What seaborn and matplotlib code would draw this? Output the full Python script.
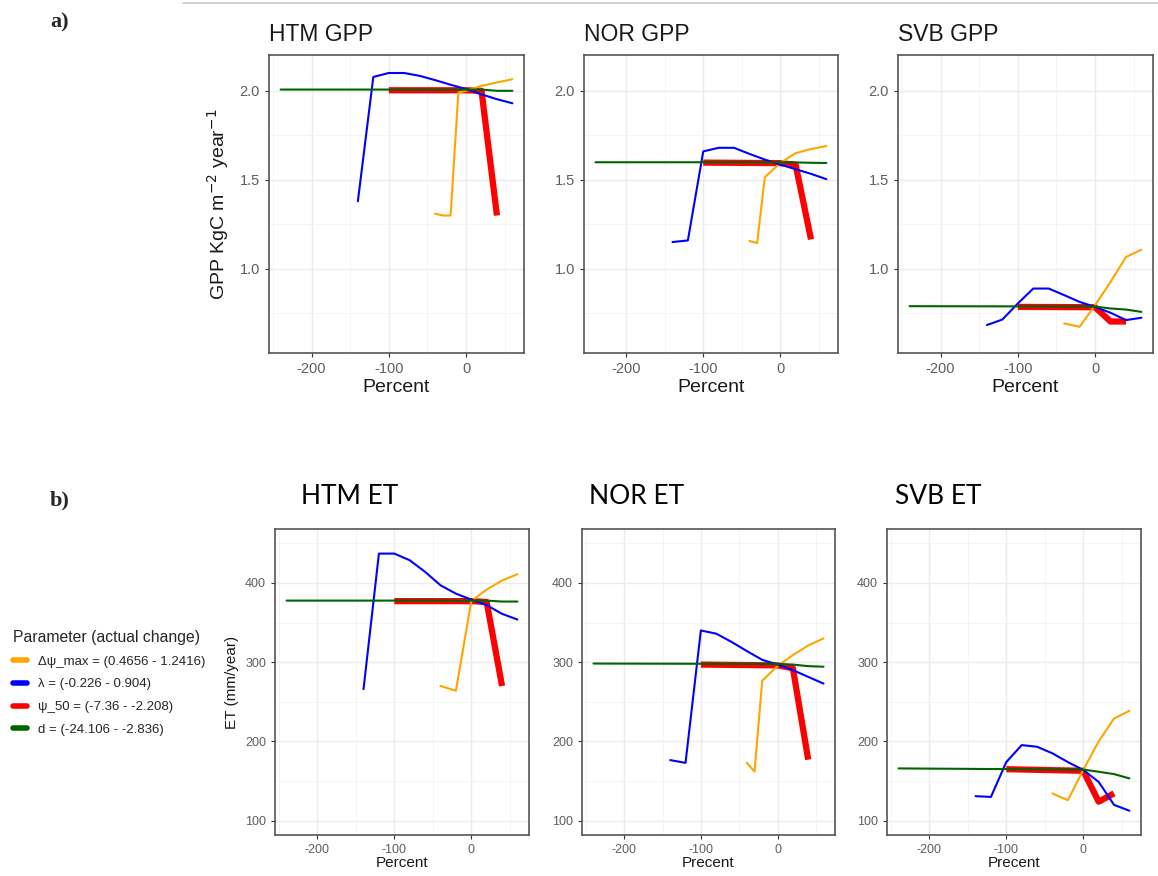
import matplotlib
matplotlib.use("Agg")
import matplotlib.pyplot as plt
from matplotlib.lines import Line2D
from matplotlib.ticker import MultipleLocator
import seaborn as sns

# percent change of each parameter (x positions)
pct_dpsi = [-40, -30, -20, -10, 0, 20, 40, 60]
pct_lam = [-140, -120, -100, -80, -60, -40, -20, 0, 20, 40, 60]
pct_psi50 = [-100, 0, 20, 40]
pct_d = [-240, 0, 20, 40, 60]

# GPP (KgC m-2 year-1)
htm_gpp_dpsi = [1.31, 1.30, 1.30, 1.99, 2.00, 2.028, 2.047, 2.065]
htm_gpp_lam = [1.38, 2.078, 2.10, 2.10, 2.084, 2.06, 2.034, 2.01, 1.98, 1.953, 1.93]
htm_gpp_psi50 = [2.003, 2.003, 2.0, 1.30]
htm_gpp_d = [2.007, 2.007, 2.007, 2.0, 2.0]

nor_gpp_dpsi = [1.157, 1.145, 1.515, 1.555, 1.595, 1.65, 1.673, 1.69]
nor_gpp_lam = [1.151, 1.16, 1.66, 1.68, 1.68, 1.646, 1.614, 1.586, 1.56, 1.534, 1.504]
nor_gpp_psi50 = [1.597, 1.594, 1.585, 1.166]
nor_gpp_d = [1.599, 1.599, 1.598, 1.596, 1.595]

svb_gpp_dpsi = [0.694, 0.685, 0.675, 0.736, 0.797, 0.927, 1.067, 1.108]
svb_gpp_lam = [0.685, 0.716, 0.806, 0.89, 0.89, 0.853, 0.815, 0.787, 0.754, 0.713, 0.726]
svb_gpp_psi50 = [0.787, 0.785, 0.705, 0.705]
svb_gpp_d = [0.791, 0.789, 0.778, 0.772, 0.759]

# ET (mm/year)
htm_et_dpsi = [270, 267, 264, 320, 377, 391.6, 403, 411]
htm_et_lam = [266, 437, 437, 428.6, 414, 397, 386.5, 379, 372, 361, 353.8]
htm_et_psi50 = [377, 377, 376, 270]
htm_et_d = [377.7, 377.7, 377.7, 376.5, 376.5]

nor_et_dpsi = [173, 162, 276.5, 286, 295, 309, 321, 330]
nor_et_lam = [176.5, 173, 340, 336, 325.6, 314, 303, 297, 290, 281.5, 273]
nor_et_psi50 = [297, 296, 292.4, 177]
nor_et_d = [298.3, 297.8, 297, 295, 294.3]

svb_et_dpsi = [134.5, 130, 126, 145, 164, 200, 229, 238.7]
svb_et_lam = [131, 130, 174, 195.4, 193.3, 185, 174, 164, 149, 120, 112.6]
svb_et_psi50 = [165, 163, 124, 134.5]
svb_et_d = [166, 164.5, 161.8, 158.8, 153.4]

legend_labels = ["\u0394\u03c8_max = (0.4656 - 1.2416)", "\u03bb = (-0.226 - 0.904)",
                 "\u03c8_50 = (-7.36 - -2.208)", "d = (-24.106 - -2.836)"]
colors = ["#FFA500", "#0000FF", "#FF0000", "#006400"]

sns.set_style("white")
plt.rcParams["font.family"] = ["Liberation Sans", "DejaVu Sans"]
plt.rcParams["axes.unicode_minus"] = False

fig = plt.figure(figsize=(11.58, 8.76), dpi=100)


def draw_panel(rect, dpsi, lam, psi50, d, ylim, ymaj, ymin, small):
    ax = fig.add_axes(rect)
    sns.lineplot(x=pct_psi50, y=psi50, color=colors[2], linewidth=4.5, ax=ax,
                 solid_capstyle="butt")
    sns.lineplot(x=pct_dpsi, y=dpsi, color=colors[0], linewidth=1.5, ax=ax)
    sns.lineplot(x=pct_lam, y=lam, color=colors[1], linewidth=1.5, ax=ax)
    sns.lineplot(x=pct_d, y=d, color=colors[3], linewidth=1.5, ax=ax)
    ax.set_xlim(-255, 75)
    ax.set_ylim(*ylim)
    ax.xaxis.set_major_locator(MultipleLocator(100))
    ax.xaxis.set_minor_locator(MultipleLocator(50))
    ax.yaxis.set_major_locator(MultipleLocator(ymaj))
    ax.yaxis.set_minor_locator(MultipleLocator(ymin))
    ax.set_axisbelow(True)
    ax.grid(which="major", color="#EBEBEB", linewidth=1.0)
    ax.grid(which="minor", color="#F2F2F2", linewidth=0.6)
    for s in ax.spines.values():
        s.set_color("#555555")
        s.set_linewidth(1.2)
    fs = 9 if small else 10.5
    ax.tick_params(which="major", length=3, width=0.8, color="#333333",
                   labelsize=fs, labelcolor="#5e5e5e", left=True, bottom=True)
    ax.tick_params(which="minor", length=0)
    return ax


gpp_lim = (0.528, 2.2)
et_lim = (82, 468)
top_panels = [
    ("HTM GPP", [0.2323, 0.597, 0.2202, 0.340], htm_gpp_dpsi, htm_gpp_lam, htm_gpp_psi50, htm_gpp_d),
    ("NOR GPP", [0.5043, 0.597, 0.2193, 0.340], nor_gpp_dpsi, nor_gpp_lam, nor_gpp_psi50, nor_gpp_d),
    ("SVB GPP", [0.7755, 0.597, 0.2202, 0.340], svb_gpp_dpsi, svb_gpp_lam, svb_gpp_psi50, svb_gpp_d),
]
for i, (title, rect, a, b, c, e) in enumerate(top_panels):
    ax = draw_panel(rect, a, b, c, e, gpp_lim, 0.5, 0.25, False)
    ax.set_title(title, loc="left", fontsize=16.5, color="#1a1a1a", pad=10)
    ax.set_xlabel("Percent", fontsize=14, color="#1a1a1a", labelpad=2)
    ax.set_ylabel("")
    if i == 0:
        ax.set_ylabel("GPP KgC m$^{-2}$ year$^{-1}$", fontsize=14, color="#1a1a1a", labelpad=6)

bottom_panels = [
    ("HTM ET", "Percent", [0.2375, 0.0468, 0.2193, 0.3493], 301, htm_et_dpsi, htm_et_lam, htm_et_psi50, htm_et_d),
    ("NOR ET", "Precent", [0.5026, 0.0468, 0.2185, 0.3493], 589, nor_et_dpsi, nor_et_lam, nor_et_psi50, nor_et_d),
    ("SVB ET", "Precent", [0.7660, 0.0468, 0.2193, 0.3493], 895, svb_et_dpsi, svb_et_lam, svb_et_psi50, svb_et_d),
]
for i, (title, xlab, rect, tx, a, b, c, e) in enumerate(bottom_panels):
    ax = draw_panel(rect, a, b, c, e, et_lim, 100, 50, True)
    ax.set_xlabel(xlab, fontsize=11, color="#1a1a1a", labelpad=0)
    ax.set_ylabel("")
    if i == 0:
        ax.set_ylabel("ET (mm/year)", fontsize=11, color="#1a1a1a", labelpad=4)
    fig.text(tx / 1158, 1 - 497 / 876, title, fontsize=19, family=["Lato", "DejaVu Sans"],
             color="black", va="center", ha="left")

# panel letters
fig.text(50 / 1158, 1 - 22 / 876, "a)", fontsize=16, fontweight="bold",
         family=["Liberation Serif", "DejaVu Serif"], va="center")
fig.text(50 / 1158, 1 - 500 / 876, "b)", fontsize=16, fontweight="bold",
         family=["Liberation Serif", "DejaVu Serif"], va="center")

# thin rule at top
fig.add_artist(Line2D([183 / 1158, 1.0], [1 - 3 / 876, 1 - 3 / 876], color="#C8C8C8", linewidth=1.2))

handles = [Line2D([0], [0], color=col, linewidth=4) for col in colors]
leg = fig.legend(handles, legend_labels, title="Parameter (actual change)",
                 loc="upper left", bbox_to_anchor=(1 / 1158, 1 - 618 / 876),
                 frameon=False, fontsize=9.5, title_fontsize=11.3,
                 handlelength=1.1, handletextpad=0.8, labelspacing=0.8)
leg._legend_box.align = "left"

fig.savefig("out.png", dpi=100)
